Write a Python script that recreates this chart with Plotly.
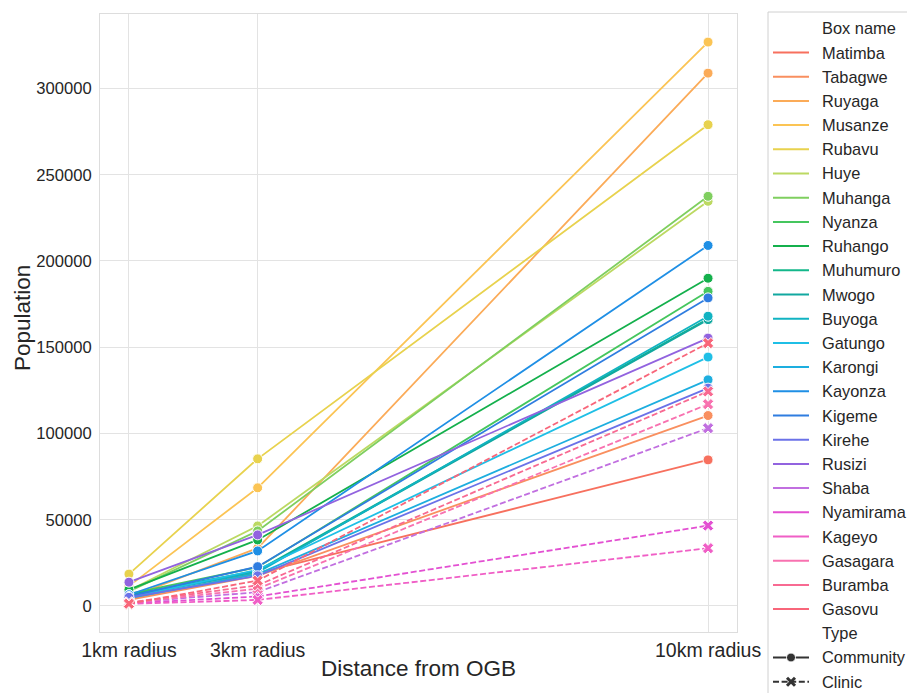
import plotly.graph_objects as go

# ---------------- data ----------------
box_names = ["Matimba", "Tabagwe", "Ruyaga", "Musanze", "Rubavu", "Huye", "Muhanga",
             "Nyanza", "Ruhango", "Muhumuro", "Mwogo", "Buyoga", "Gatungo", "Karongi",
             "Kayonza", "Kigeme", "Kirehe", "Rusizi", "Shaba", "Nyamirama", "Kageyo",
             "Gasagara", "Buramba", "Gasovu"]
box_types = ["Community"] * 18 + ["Clinic"] * 6
type_names = ["Community", "Clinic"]
distances = [1, 3, 10]
distance_labels = ["1km radius", "3km radius", "10km radius"]

pop_1km = [4000, 3500, 5000, 11500, 18500, 9000, 8500, 7000, 9500, 6500, 6000, 5500,
           5000, 4500, 6500, 5500, 5000, 13800, 2000, 1500, 1200, 1800, 2000, 1300]
pop_3km = [19000, 17500, 33500, 68500, 85300, 46400, 43500, 22500, 38300, 20500, 20000, 19500,
           21000, 18500, 31900, 22800, 17500, 41200, 8000, 5500, 3500, 10000, 12000, 14700]
pop_10km = [84700, 110400, 308900, 326900, 279000, 234600, 237500, 182400, 190000, 166500,
            166000, 168000, 144300, 131100, 209000, 178600, 126300, 155300, 103100, 46600,
            33500, 117000, 124400, 152400]

y_ticks = [0, 50000, 100000, 150000, 200000, 250000, 300000]

colors = ["#f7705e", "#f98f5f", "#fbab58", "#fbc454", "#e8d24e", "#bcd962", "#7fcf5f",
          "#45c65e", "#14b04c", "#13b78a", "#12a8a0", "#11b3c2", "#1fbfe6", "#1daedf",
          "#1f8fe5", "#2f7de0", "#6b72e8", "#9263df", "#c16fe0", "#e350d2", "#f05fc6",
          "#f872b0", "#f86a92", "#f8667a"]

DASH = "6px,2.6px"
FONT = "Arial, Liberation Sans, sans-serif"
TXT = "#262626"

# ---------------- geometry (pixels) ----------------
W, H = 907, 693
PL, PR, PT, PB = 100, 737, 14, 632


def px_x(p):
    return (p - PL) / (PR - PL)


def px_y(p):
    return (PB - p) / (PB - PT)


# ---------------- figure ----------------
fig = go.Figure()
for i, name in enumerate(box_names):
    clinic = box_types[i] == "Clinic"
    fig.add_trace(go.Scatter(
        x=distances, y=[pop_1km[i], pop_3km[i], pop_10km[i]],
        mode="lines+markers", name=name, showlegend=False,
        line=dict(color=colors[i], width=1.8, dash=DASH if clinic else "solid"),
        marker=dict(symbol="x" if clinic else "circle", size=10,
                    color=colors[i], line=dict(color="white", width=1)),
    ))

# ---------------- seaborn-style legend drawn with shapes/annotations ----------------
shapes = []
annotations = []
LEG_L, LEG_T = 768, 12
STEP = 24.2
Y0 = 28.3
LINE_X0, LINE_X1, TEXT_X = 773, 809, 822

shapes.append(dict(type="rect", xref="paper", yref="paper",
                   x0=px_x(LEG_L), x1=px_x(W + 20), y0=px_y(LEG_T), y1=px_y(H + 20),
                   line=dict(color="#d0d0d0", width=1), fillcolor="rgba(255,255,255,0.8)",
                   layer="above"))

labels = ["Box name"] + box_names + ["Type"] + type_names
for k, lab in enumerate(labels):
    yy = Y0 + STEP * k
    annotations.append(dict(xref="paper", yref="paper", x=px_x(TEXT_X), y=px_y(yy),
                            text=lab, showarrow=False, xanchor="left", yanchor="middle",
                            xshift=-1, borderpad=0,
                            font=dict(size=16.4, color=TXT, family=FONT)))
    if 1 <= k <= len(box_names):
        shapes.append(dict(type="line", xref="paper", yref="paper",
                           x0=px_x(LINE_X0), x1=px_x(LINE_X1), y0=px_y(yy), y1=px_y(yy),
                           line=dict(color=colors[k - 1], width=2), layer="above"))
    elif lab in type_names:
        clinic = lab == "Clinic"
        shapes.append(dict(type="line", xref="paper", yref="paper",
                           x0=px_x(LINE_X0), x1=px_x(LINE_X1), y0=px_y(yy), y1=px_y(yy),
                           line=dict(color="#333333", width=2, dash=DASH if clinic else "solid"),
                           layer="above"))
        cx = (LINE_X0 + LINE_X1) / 2
        if not clinic:
            r = 4.5
            shapes.append(dict(type="circle", xref="paper", yref="paper",
                               x0=px_x(cx - r), x1=px_x(cx + r), y0=px_y(yy - r), y1=px_y(yy + r),
                               fillcolor="#333333", line=dict(color="white", width=1),
                               layer="above"))
        else:
            r = 4
            for sgn in (1, -1):
                shapes.append(dict(type="line", xref="paper", yref="paper",
                                   x0=px_x(cx - r), x1=px_x(cx + r),
                                   y0=px_y(yy - sgn * r), y1=px_y(yy + sgn * r),
                                   line=dict(color="#333333", width=3), layer="above"))

# axis titles placed at the reference positions
annotations.append(dict(xref="paper", yref="paper", x=px_x(418.5), y=px_y(668),
                        text="Distance from OGB", showarrow=False,
                        xanchor="center", yanchor="middle",
                        font=dict(size=22.5, color=TXT, family=FONT)))
annotations.append(dict(xref="paper", yref="paper", x=px_x(22), y=px_y(318),
                        text="Population", showarrow=False, textangle=-90,
                        xanchor="center", yanchor="middle",
                        font=dict(size=22.5, color=TXT, family=FONT)))

all_vals = pop_1km + pop_3km + pop_10km
lo, hi = min(all_vals), max(all_vals)
pad = 0.05 * (hi - lo)
xpad = 0.05 * (max(distances) - min(distances))

fig.update_layout(
    width=W, height=H,
    margin=dict(l=PL, r=W - PR, t=PT, b=H - PB),
    paper_bgcolor="white", plot_bgcolor="white",
    font=dict(family=FONT, color=TXT, size=16),
    showlegend=False,
    shapes=shapes, annotations=annotations,
    xaxis=dict(
        range=[min(distances) - xpad, max(distances) + xpad], automargin=False,
        tickmode="array", tickvals=distances, ticktext=distance_labels,
        showgrid=True, gridcolor="#e3e3e3", gridwidth=1.2, zeroline=False,
        showline=True, linecolor="#dddddd", linewidth=1, mirror=True,
        ticks="outside", ticklen=1, tickcolor="rgba(0,0,0,0)",
        tickfont=dict(size=19.5),
    ),
    yaxis=dict(
        range=[lo - pad, hi + pad], automargin=False,
        tickmode="array", tickvals=y_ticks, ticktext=[str(v) for v in y_ticks],
        showgrid=True, gridcolor="#e3e3e3", gridwidth=1.2, zeroline=False,
        showline=True, linecolor="#dddddd", linewidth=1, mirror=True,
        ticks="outside", ticklen=4, tickcolor="rgba(0,0,0,0)",
        tickfont=dict(size=16.6),
    ),
)

fig.write_html("out.html", config={"displayModeBar": False},
               post_script="document.body.style.margin='0';")
